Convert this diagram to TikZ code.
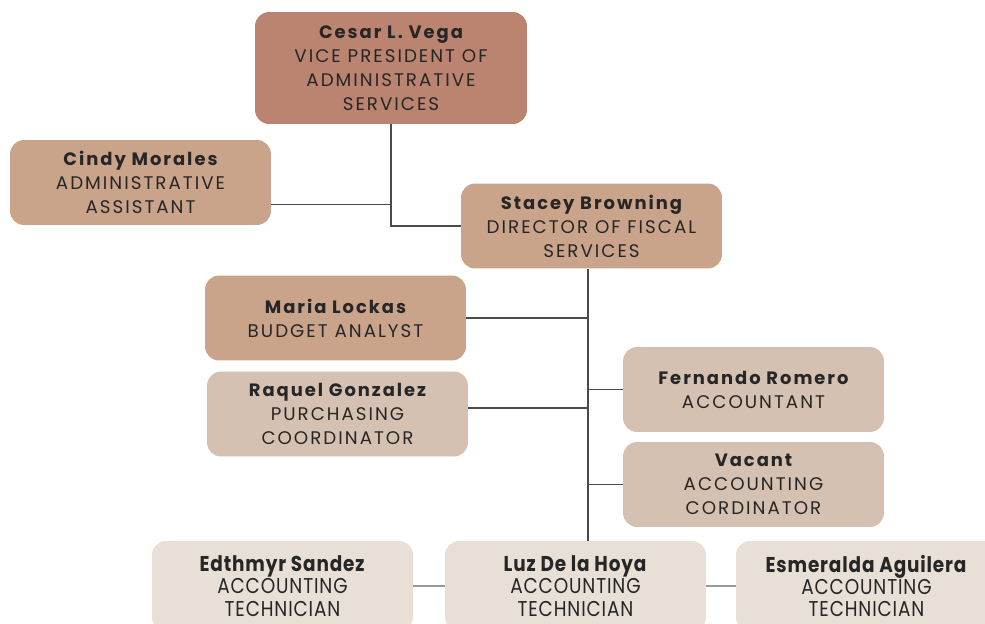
\documentclass[tikz,border=0pt]{standalone}
\usepackage{fontspec}
\setmainfont{Poppins}[LetterSpace=11]
\newfontfamily\condfont[FakeStretch=0.86, LetterSpace=4]{Poppins}
\usepackage{xcolor}
\usetikzlibrary{positioning}

\definecolor{rust}{HTML}{BA8470}
\definecolor{tan}{HTML}{C9A38A}
\definecolor{sand}{HTML}{D5C1B1}
\definecolor{linen}{HTML}{E8DFD6}
\definecolor{wire}{HTML}{4A4A4A}

\newcommand\who[1]{{\fontsize{10.2}{13.6}\selectfont\bfseries #1}}

\begin{document}
\begin{tikzpicture}[
  x=0.02cm, y=-0.02cm,
  card/.style={rectangle, rounded corners=8pt, minimum width=5.22cm, minimum height=1.7cm, align=center, inner sep=2pt, text=black!85, font=\fontsize{10.4}{13.6}\selectfont},
  bigcard/.style={card, minimum width=5.44cm, minimum height=2.24cm},
  techcard/.style={card, fill=linen, minimum height=1.8cm, font=\condfont\fontsize{12.2}{12.6}\selectfont},
  link/.style={draw=wire, line width=0.8pt},
  softlink/.style={draw=black!40, line width=1.6pt}
]
\useasboundingbox (0,0) rectangle (985,623);
\coordinate (spine) at (588,0);

\node[bigcard, fill=rust] (vega) at (391,68) {\who{Cesar L. Vega}\\VICE PRESIDENT OF\\ADMINISTRATIVE\\SERVICES};
\node[card, fill=tan] (morales) at (140.5,182.5) {\who{Cindy Morales}\\ADMINISTRATIVE\\ASSISTANT};
\node[card, fill=tan] (browning) at (591.5,226) {\who{Stacey Browning}\\DIRECTOR OF FISCAL\\SERVICES};
\node[card, fill=tan] (lockas) at (335.5,318) {\who{Maria Lockas}\\BUDGET ANALYST};
\node[card, fill=sand] (gonzalez) at (337.5,414) {\who{Raquel Gonzalez}\\PURCHASING\\COORDINATOR};
\node[card, fill=sand] (romero) at (753.5,389.5) {\who{Fernando Romero}\\ACCOUNTANT};
\node[card, fill=sand] (vacant) at (753.5,484.5) {\who{Vacant}\\ACCOUNTING\\CORDINATOR};
\node[techcard] (sandez) at (282.5,586) {\textbf{Edthmyr Sandez}\\ACCOUNTING\\TECHNICIAN};
\node[techcard] (luz) at (575.5,586) {\textbf{Luz De la Hoya}\\ACCOUNTING\\TECHNICIAN};
\node[techcard] (aguilera) at (866.5,586) {\textbf{Esmeralda Aguilera}\\ACCOUNTING\\TECHNICIAN};

% upper branch
\draw[link] (vega.south) |- (browning.west);
\draw[link] ([yshift=-0.44cm]morales.east) -- ([yshift=-0.44cm]morales.east -| vega.south);

% fiscal services trunk
\draw[link] (browning.south -| spine) -- (luz.north -| spine);
\draw[link] (lockas.east) -- (lockas.east -| spine);
\draw[link] ([yshift=0.12cm]gonzalez.east) -- ([yshift=0.12cm]gonzalez.east -| spine);
\draw[link] (romero.west) -- (romero.west -| spine);
\draw[link] (vacant.west) -- (vacant.west -| spine);

% technicians
\draw[softlink] (sandez) -- (luz);
\draw[softlink] (luz) -- (aguilera);
\end{tikzpicture}
\end{document}
